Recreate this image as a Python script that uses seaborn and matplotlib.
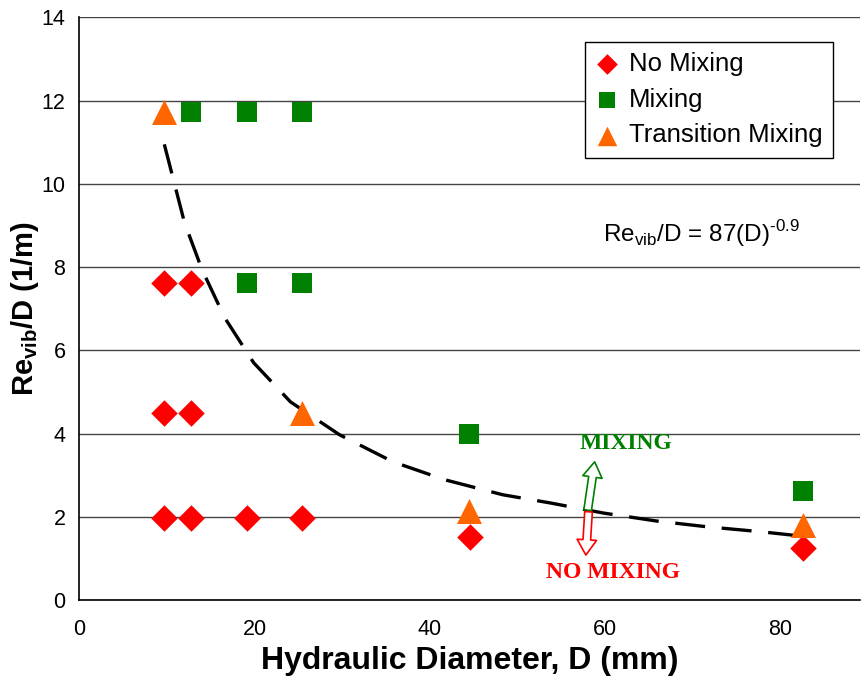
import pandas as pd
import numpy as np
import matplotlib
matplotlib.use("Agg")
import matplotlib.pyplot as plt
import seaborn as sns

# data
no_mix_d = [9.7, 12.8, 19.1, 25.4, 44.6, 82.6, 9.7, 12.8, 9.7, 12.8]
no_mix_re = [1.97, 1.97, 1.97, 1.97, 1.52, 1.25, 4.49, 4.49, 7.62, 7.62]

mix_d = [12.8, 19.1, 25.4, 19.1, 25.4, 44.5, 82.6]
mix_re = [11.72, 11.72, 11.72, 7.62, 7.62, 4.0, 2.62]

trans_d = [9.7, 25.4, 44.5, 82.6]
trans_re = [11.72, 4.49, 2.14, 1.8]

# fitted curve Re_vib/D = 87 D^-0.9
fit_d = [9.7, 12.0, 14.0, 16.6, 19.9, 24.1, 29.7, 35.8, 41.7, 48.3, 53.8, 59.8, 65.8, 71.6, 77.8, 83.1]
fit_re = [10.95, 9.07, 7.94, 6.78, 5.70, 4.76, 3.97, 3.32, 2.89, 2.53, 2.33, 2.09, 1.90, 1.76, 1.64, 1.52]

sns.set_style("white", {'text.color': 'black', 'axes.labelcolor': 'black',
                        'xtick.color': 'black', 'ytick.color': 'black'})
plt.rcParams['font.family'] = ['Liberation Sans', 'DejaVu Sans']
plt.rcParams['mathtext.fontset'] = 'custom'
plt.rcParams['mathtext.rm'] = 'Liberation Sans'
plt.rcParams['mathtext.bf'] = 'Liberation Sans:bold'

fig = plt.figure(figsize=(8.61, 6.83), dpi=100)
ax = fig.add_axes([0.0921, 0.1215, 0.907, 0.853])

ax.grid(axis='y', color='#444444', linewidth=1)
ax.set_axisbelow(True)

sns.lineplot(x=fit_d, y=fit_re, ax=ax, color='black', linewidth=2.4,
             linestyle=(0, (9, 5)), sort=False, estimator=None, legend=False, zorder=2)

sns.scatterplot(x=no_mix_d, y=no_mix_re, ax=ax, marker='D', s=13.5**2, color='#FF0000',
                linewidth=0, label='No Mixing', zorder=3)
sns.scatterplot(x=mix_d, y=mix_re, ax=ax, marker='s', s=15**2, color='#008000',
                linewidth=0, label='Mixing', zorder=3)
sns.scatterplot(x=trans_d, y=trans_re, ax=ax, marker='^', s=18**2, color='#FF6600',
                linewidth=0, label='Transition Mixing', zorder=3)

ax.set_xlim(0, 89.1)
ax.set_ylim(0, 14)
ax.set_xticks([0, 20, 40, 60, 80])
ax.set_yticks(range(0, 15, 2))
ax.tick_params(axis='both', direction='out', length=6, width=1, labelsize=15.5,
               color='black', labelcolor='black')
ax.tick_params(axis='x', pad=8)
ax.tick_params(axis='y', pad=4)

for side in ['top', 'right']:
    ax.spines[side].set_visible(False)
for side in ['left', 'bottom']:
    ax.spines[side].set_color('black')
    ax.spines[side].set_linewidth(1.2)

ax.set_xlabel("Hydraulic Diameter, D (mm)", fontsize=23, fontweight='bold', labelpad=4, color='black')
ax.set_ylabel(r"Re$_{\mathbf{vib}}$/D (1/m)", fontsize=21, fontweight='bold', labelpad=0, color='black')

leg = ax.legend(loc='upper right', bbox_to_anchor=(0.965, 0.958), borderaxespad=0,
                fontsize=18.5, markerscale=0.78, handlelength=0.9, handletextpad=0.4,
                labelspacing=0.45, borderpad=0.4, fancybox=False, framealpha=1)
leg.get_frame().set_edgecolor('black')
leg.get_frame().set_linewidth(1)
for t in leg.get_texts():
    t.set_color('black')

ax.text(59.7, 8.6, r"Re$_{\mathrm{vib}}$/D = 87(D)$^{\mathrm{\text{-}0.9}}$", fontsize=17.5,
        va='baseline', color='black')

# mixing / no mixing hollow arrows
arrow_style = 'simple,head_length=1.1,head_width=1.4,tail_width=0.55'
ax.annotate('', xy=(58.8, 3.32), xytext=(58.0, 2.16),
            arrowprops=dict(arrowstyle=arrow_style, fc='white', ec='#008000', lw=1.2,
                            shrinkA=0, shrinkB=0))
ax.annotate('', xy=(57.8, 1.08), xytext=(58.1, 2.12),
            arrowprops=dict(arrowstyle=arrow_style, fc='white', ec='#FF0000', lw=1.2,
                            shrinkA=0, shrinkB=0))
ax.text(62.4, 3.77, "MIXING", fontsize=17, fontweight='bold', color='#008000',
        family=['Liberation Serif', 'DejaVu Serif'], ha='center', va='center')
ax.text(60.9, 0.66, "NO MIXING", fontsize=17, fontweight='bold', color='#FF0000',
        family=['Liberation Serif', 'DejaVu Serif'], ha='center', va='center')

fig.savefig("out.png", dpi=100)
